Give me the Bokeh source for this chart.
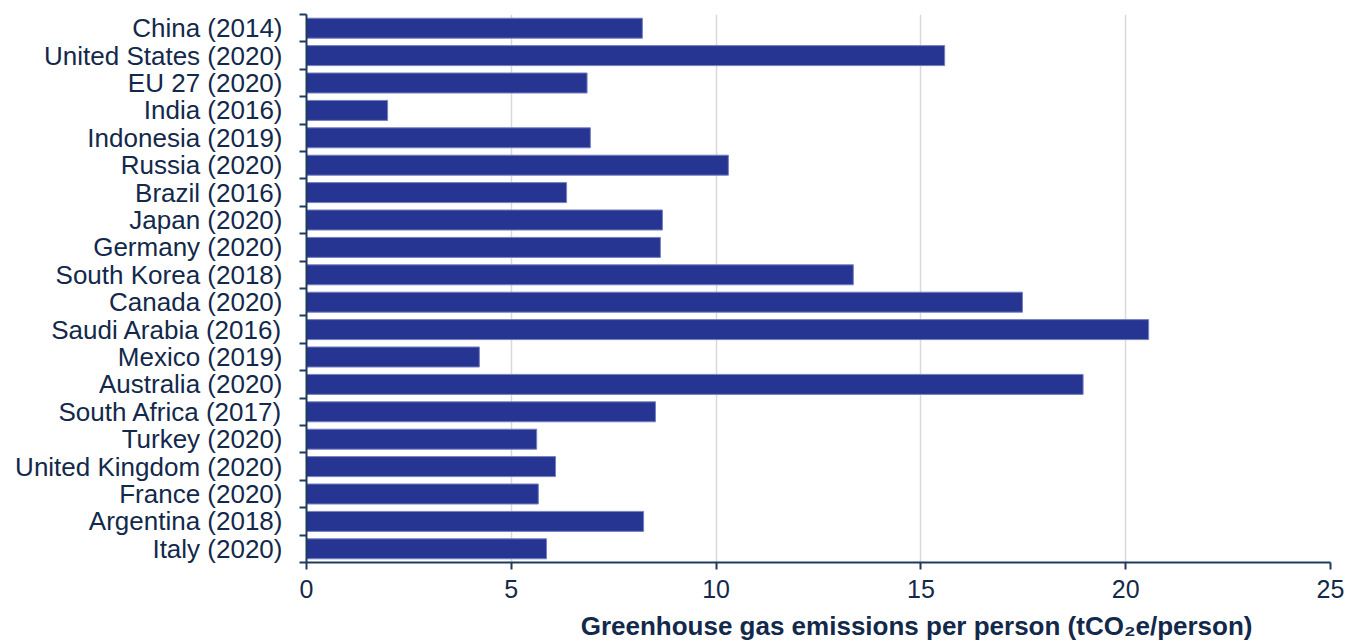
from bokeh.plotting import figure
from bokeh.models import Range1d, FixedTicker, Title
from bokeh.embed import file_html
from bokeh.resources import INLINE

countries = ["China (2014)", "United States (2020)", "EU 27 (2020)", "India (2016)",
             "Indonesia (2019)", "Russia (2020)", "Brazil (2016)", "Japan (2020)",
             "Germany (2020)", "South Korea (2018)", "Canada (2020)", "Saudi Arabia (2016)",
             "Mexico (2019)", "Australia (2020)", "South Africa (2017)", "Turkey (2020)",
             "United Kingdom (2020)", "France (2020)", "Argentina (2018)", "Italy (2020)"]
emissions = [8.2, 15.58, 6.85, 1.98, 6.93, 10.3, 6.35, 8.69, 8.64, 13.35,
             17.48, 20.56, 4.22, 18.96, 8.52, 5.62, 6.08, 5.66, 8.23, 5.86]
x_ticks = [0, 5, 10, 15, 20, 25]
x_title = "Greenhouse gas emissions per person (tCO\u2082e/person)"

TXT = "#13294b"
AX = "#1f3a5f"
FONT = "Liberation Sans"

n = len(countries)
centers = [i + 0.5 for i in range(n)]
bounds = list(range(n + 1))

p = figure(width=1353, height=644, output_backend="svg", toolbar_location=None,
           x_range=Range1d(0, 25), y_range=Range1d(n, 0),
           min_border_left=306, min_border_right=23, min_border_top=14, min_border_bottom=82)
p.outline_line_color = None
p.background_fill_color = "white"

p.hbar(y=centers, right=emissions, left=0, height=0.73,
       fill_color="#263591", line_color="#7880bf", line_width=1)

# x axis
p.xaxis.ticker = FixedTicker(ticks=x_ticks)
p.xaxis.axis_line_color = AX
p.xaxis.axis_line_width = 2
p.xaxis.major_tick_line_color = AX
p.xaxis.major_tick_line_width = 2
p.xaxis.major_tick_out = 7
p.xaxis.major_tick_in = 0
p.xaxis.minor_tick_line_color = None
p.xaxis.major_label_text_font = FONT
p.xaxis.major_label_text_font_size = "25px"
p.xaxis.major_label_text_color = TXT
p.xaxis.major_label_standoff = 10

# y axis
p.yaxis.ticker = FixedTicker(ticks=centers, minor_ticks=bounds)
p.yaxis.major_label_overrides = {c: name for c, name in zip(centers, countries)}
p.yaxis.axis_line_color = AX
p.yaxis.axis_line_width = 2
p.yaxis.major_tick_line_color = None
p.yaxis.minor_tick_line_color = AX
p.yaxis.minor_tick_line_width = 2
p.yaxis.minor_tick_out = 7
p.yaxis.minor_tick_in = 0
p.yaxis.major_label_text_font = FONT
p.yaxis.major_label_text_font_size = "26px"
p.yaxis.major_label_text_color = TXT
p.yaxis.major_label_standoff = 17

p.xgrid.ticker = FixedTicker(ticks=x_ticks[1:])
p.xgrid.grid_line_color = "#d9d9d9"
p.xgrid.grid_line_width = 1.5
p.ygrid.grid_line_color = None

# small spacer between tick labels and the axis title
p.add_layout(Title(text=" ", text_font_size="6px", standoff=0), "below")
p.add_layout(Title(text=x_title, align="right", offset=78, text_font=FONT,
                   text_font_size="26px", text_font_style="bold", text_color=TXT,
                   standoff=0), "below")

open("out.html", "w").write(file_html(p, INLINE))
